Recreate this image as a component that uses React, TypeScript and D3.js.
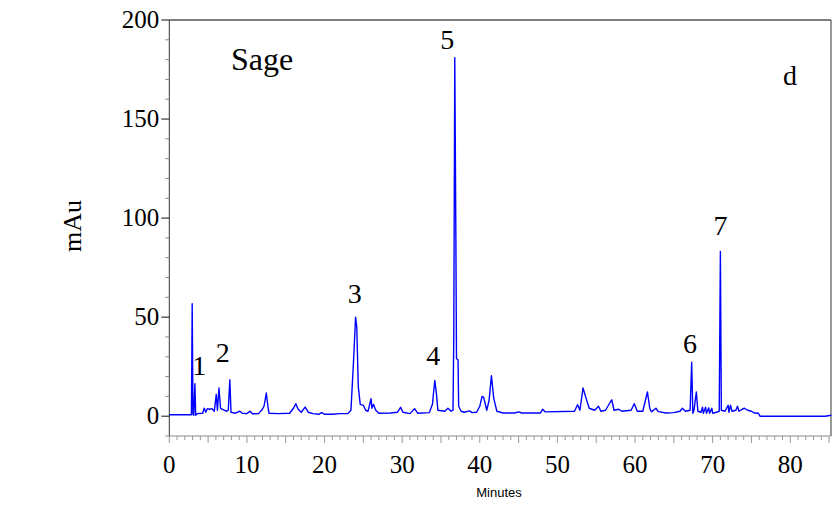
import React from "react";
import * as d3 from "d3";

const times: number[] = [
  0, 2.8, 2.85, 2.95, 3.05, 3.15, 3.3, 3.4, 3.6, 4.3, 4.5, 4.7, 4.9, 5.2, 5.5, 5.8,
  6.05, 6.2, 6.4, 6.6, 7.0, 7.4, 7.6, 7.8, 7.95, 8.5, 9.1, 9.4, 10.0, 10.4, 10.7,
  11.5, 12.0, 12.2, 12.5, 12.7, 12.85, 14, 15.5, 16.0, 16.3, 16.6, 17.0, 17.5, 17.9,
  18.5, 19.3, 19.6, 20, 21, 22, 23.0, 23.4, 23.7, 24.0, 24.15, 24.35, 24.6, 25.0,
  25.3, 25.6, 26.0, 26.1, 26.3, 26.6, 27.0, 28.5, 29.4, 29.8, 30.1, 31.0, 31.6, 32.0,
  33.5, 33.9, 34.2, 34.4, 34.6, 35.5, 35.9, 36.3, 36.55, 36.65, 36.78, 36.92, 37.0,
  37.2, 37.28, 37.6, 38.0, 38.7, 39.0, 39.6, 40.0, 40.3, 40.5, 40.9, 41.2, 41.5, 41.8,
  42.2, 43, 44.5, 45.0, 45.4, 47.8, 48.1, 48.4, 52.2, 52.6, 52.9, 53.3, 53.7, 54.1,
  54.8, 55.3, 55.6, 56.2, 57.0, 57.3, 57.9, 58.3, 59.5, 59.9, 60.3, 61.0, 61.6, 61.9,
  62.1, 62.7, 63.0, 64, 65, 65.8, 66.1, 66.5, 67.1, 67.3, 67.45, 67.6, 67.9, 68.1,
  68.5, 68.7, 68.8, 69.1, 69.2, 69.5, 69.6, 69.9, 70.0, 70.5, 70.85, 71.0, 71.12,
  71.6, 72.0, 72.1, 72.3, 72.5, 73.0, 73.2, 73.4, 73.8, 74.1, 74.5, 75.0, 75.4, 75.9,
  76.1, 84.5, 85.3,
];

const absorbance: number[] = [
  0.7, 0.7, 0.7, 56.8, 1, 0.5, 16.4, 0.5, 1.3, 1.5, 4, 2, 3.8, 3.5, 3.8, 2.5,
  11, 3, 14.2, 4, 3.2, 2.5, 3, 18.4, 2, 1.5, 2.5, 1.5, 1.3, 2.5, 1.2,
  1.3, 3.5, 5, 11.7, 5, 1.5, 1.3, 1.5, 4, 6.3, 3.5, 2, 4.6, 2,
  1.3, 1.0, 1.8, 1.0, 1.0, 1.3, 1.3, 3, 25, 50, 45, 15, 6, 5.5,
  3, 2.5, 8.8, 4, 6, 3, 1.5, 1.6, 2, 4.5, 2, 1.3, 3.8, 1.5,
  1.8, 6, 18, 12, 3, 2.5, 4, 2.5, 3, 40, 181, 90, 29,
  28.5, 5, 2.5, 2, 2.7, 1.8, 2, 5, 10, 9.5, 3, 8, 20.5, 9,
  2.5, 1.6, 1.6, 2.2, 1.6, 1.6, 3.5, 2.2, 2.5, 5.8, 3, 14.2, 9, 4,
  3, 5, 2.5, 3, 8.3, 3, 3.5, 2.5, 3, 6.3, 2.5, 2.5, 12.2, 4,
  2.2, 4, 2.3, 1.6, 1.8, 2.5, 4, 2.5, 3, 27.2, 1.5, 3, 12.2, 2.5,
  2, 4.5, 1.5, 4.5, 1.5, 4.2, 1.5, 4, 1.5, 2, 2.5, 83.2, 3,
  2.5, 5.5, 2, 5.5, 2.5, 3, 5, 2.5, 3.5, 4, 3, 2.5, 1.6, 1.5,
  0, 0, 0.5,
];

const xTickLabels: number[] = [0, 10, 20, 30, 40, 50, 60, 70, 80];
const yTickLabels: number[] = [0, 50, 100, 150, 200];

const peakNames: string[] = ["1", "2", "3", "4", "5", "6", "7"];
const peakTimes: number[] = [3.85, 6.9, 23.9, 34.0, 35.8, 67.1, 71.0];
const peakLabelValues: number[] = [20.8, 27.4, 57, 26, 185.5, 32, 91.5];

const W = 833;
const H = 508;
const left = 169.3;
const right = 831;
const top = 20;
const bottom = 436;

export default function App() {
  const x = d3.scaleLinear().domain([0, 85.25]).range([left, right]);
  const y = d3.scaleLinear().domain([-10, 200]).range([bottom, top]);

  const pts: [number, number][] = times.map((t, i) => [t, absorbance[i]]);
  const line = d3
    .line<[number, number]>()
    .x((d) => x(d[0]))
    .y((d) => y(d[1]));

  const minorX = d3.range(0, 86, 1);
  const minorY = d3.range(-10, 201, 10);
  const serif = '"Liberation Serif", serif';
  const sans = '"Liberation Sans", sans-serif';

  return (
    <div style={{ position: "absolute", left: 0, top: 0 }}>
      <svg width={W} height={H} style={{ display: "block", background: "#fff" }}>
        {/* frame */}
        <line x1={left} x2={right} y1={top} y2={top} stroke="#000" strokeWidth={1} />
        <line x1={right} x2={right} y1={top} y2={bottom} stroke="#333" strokeWidth={1} />
        <line x1={left} x2={right} y1={bottom} y2={bottom} stroke="#888" strokeWidth={1} />
        <line x1={left} x2={left} y1={top} y2={bottom} stroke="#333" strokeWidth={1} />

        {/* y ticks */}
        {minorY.map((v) => {
          const major = v % 50 === 0;
          return (
            <line
              key={"yt" + v}
              x1={major ? left - 8 : left - 4}
              x2={left}
              y1={y(v)}
              y2={y(v)}
              stroke={major ? "#111" : "#888"}
              strokeWidth={1}
            />
          );
        })}
        {yTickLabels.map((v) => (
          <text
            key={"yl" + v}
            x={left - 10}
            y={y(v)}
            dy="0.33em"
            textAnchor="end"
            style={{ fontFamily: serif }}
            fontSize={25}
            fill="#000"
          >
            {v}
          </text>
        ))}

        {/* x ticks */}
        {minorX.map((v) => {
          const major = v % 5 === 0;
          return (
            <line
              key={"xt" + v}
              x1={x(v)}
              x2={x(v)}
              y1={bottom}
              y2={bottom + (major ? 7 : 4)}
              stroke="#999"
              strokeWidth={1}
            />
          );
        })}
        {xTickLabels.map((v) => (
          <text
            key={"xl" + v}
            x={x(v)}
            y={473}
            textAnchor="middle"
            style={{ fontFamily: serif }}
            fontSize={25}
            fill="#000"
          >
            {v}
          </text>
        ))}

        <text x={499} y={497} textAnchor="middle" style={{ fontFamily: sans }} fontSize={13} fill="#000">
          Minutes
        </text>

        <text
          transform={`translate(81,226) rotate(-90)`}
          textAnchor="middle"
          style={{ fontFamily: serif }}
          fontSize={26}
          fill="#000"
        >
          mAu
        </text>

        {/* trace */}
        <path d={line(pts) || ""} fill="none" stroke="#0000ff" strokeWidth={1.4} strokeLinejoin="round" />

        {/* annotations */}
        <text x={231} y={70} style={{ fontFamily: serif }} fontSize={32} fill="#000">
          Sage
        </text>
        <text x={790} y={85} textAnchor="middle" style={{ fontFamily: serif }} fontSize={28} fill="#000">
          d
        </text>
        {peakNames.map((n, i) => (
          <text
            key={"p" + n}
            x={x(peakTimes[i])}
            y={y(peakLabelValues[i])}
            textAnchor="middle"
            style={{ fontFamily: serif }}
            fontSize={28}
            fill="#000"
          >
            {n}
          </text>
        ))}
      </svg>
    </div>
  );
}
